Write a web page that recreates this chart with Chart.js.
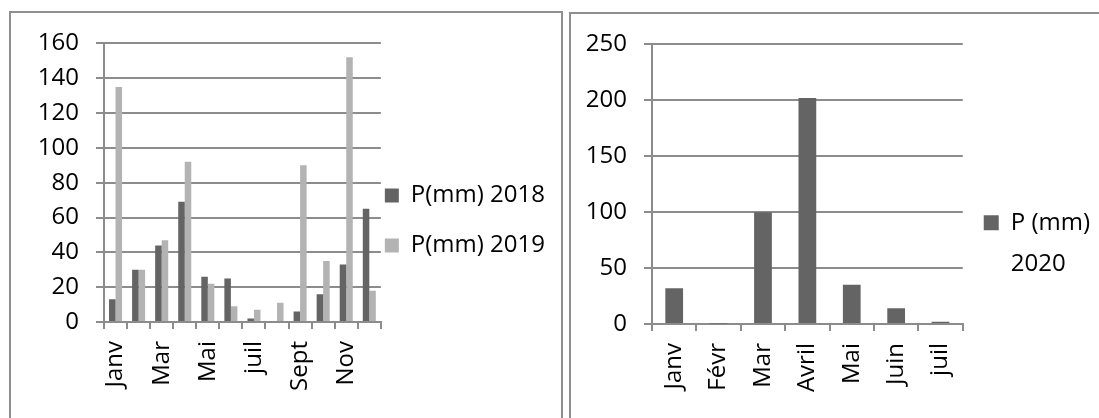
<!DOCTYPE html>
<html>
<head>
<meta charset="utf-8">
<script src="https://cdn.jsdelivr.net/npm/chart.js@4.4.1/dist/chart.umd.min.js"></script>
<style>
html,body{margin:0;padding:0;background:#fff;overflow:hidden;width:1099px;height:418px}
.box{position:absolute;border:2px solid #8f8f8f;box-sizing:border-box}
canvas{position:absolute}
</style>
</head>
<body>
<div class="box" style="left:9px;top:11px;width:554px;height:430px"></div>
<div class="box" style="left:569px;top:12px;width:560px;height:430px"></div>
<canvas id="pluie1819" width="550" height="410" style="left:10px;top:12px"></canvas>
<canvas id="pluie2020" width="560" height="452" style="left:571px;top:13px"></canvas>
<script>
// données
const mois = ['Janv','Févr','Mar','Avril','Mai','Juin','juil','Août','Sept','Oct','Nov','Déc'];
const p2018 = [13,30,44,69,26,25,2,0,6,16,33,65];
const p2019 = [135,30,47,92,22,9,7,11,90,35,152,18];

const mois2020 = ['Janv','Févr','Mar','Avril','Mai','Juin','juil'];
const p2020 = [32,0.5,100,202,35,14,2];

const serie2018 = 'P(mm) 2018';
const serie2019 = 'P(mm) 2019';
const serie2020 = 'P (mm) 2020';

const gris = '#8c8c8c';

Chart.defaults.font.family = "'Open Sans', sans-serif";
Chart.defaults.font.size = 24;
Chart.defaults.color = '#000';

const baseLabels = Chart.defaults.plugins.legend.labels.generateLabels;


/* 2018 - 2019 */

new Chart(document.getElementById('pluie1819'),{

type:'bar',

data:{
labels:mois,
datasets:[
{label:serie2018,data:p2018,backgroundColor:'#646464'},
{label:serie2019,data:p2019,backgroundColor:'#b3b3b3'}
]
},

options:{
responsive:false,
animation:false,
layout:{padding:{top:29,right:5,bottom:0,left:0}},
datasets:{bar:{categoryPercentage:0.565,barPercentage:1}},

plugins:{
tooltip:{enabled:false},
legend:{
position:'right',
maxWidth:220,
labels:{
boxWidth:14,boxHeight:14,padding:4,
font:{size:24,lineHeight:0.96},
// ligne vide pour espacer les entrées comme dans Excel
generateLabels:function(chart){
return baseLabels(chart).map(l => Object.assign(l,{text:[l.text,'']}));
}
}
}
},

scales:{
x:{
grid:{offset:true,drawOnChartArea:false,tickLength:7,color:gris,lineWidth:2},
border:{color:gris,width:2},
ticks:{autoSkip:false,minRotation:90,maxRotation:90,padding:12,
callback:function(v,i){ return i % 2 === 0 ? mois[i] : ''; }},
afterFit:function(s){ s.height = 100; }
},
y:{
min:0,max:160,
ticks:{stepSize:20,padding:17},
grid:{tickLength:8,color:gris,lineWidth:2},
border:{color:gris,width:2},
afterFit:function(s){ s.width = 94; }
}
}
}

});


/* 2020 */

new Chart(document.getElementById('pluie2020'),{

type:'bar',

data:{
labels:mois2020,
datasets:[
{label:serie2020,data:p2020,backgroundColor:'#646464'}
]
},

options:{
responsive:false,
animation:false,
layout:{padding:{top:26,right:31,bottom:0,left:0}},
datasets:{bar:{categoryPercentage:0.4,barPercentage:1}},

plugins:{
tooltip:{enabled:false},
legend:{
position:'right',
maxWidth:220,
labels:{
boxWidth:15,boxHeight:15,padding:21,
font:{size:24,lineHeight:1.72},
generateLabels:function(chart){
return baseLabels(chart).map(l => Object.assign(l,{text:l.text.split(/ (?=\d{4}$)/)}));
}
}
}
},

scales:{
x:{
grid:{offset:true,drawOnChartArea:false,tickLength:7,color:gris,lineWidth:2},
border:{color:gris,width:2},
ticks:{autoSkip:false,minRotation:90,maxRotation:90,padding:12},
afterFit:function(s){ s.height = 141; }
},
y:{
min:0,max:250,
ticks:{stepSize:50,padding:17},
grid:{tickLength:8,color:gris,lineWidth:2},
border:{color:gris,width:2},
afterFit:function(s){ s.width = 81; }
}
}
}

});
</script>
</body>
</html>
